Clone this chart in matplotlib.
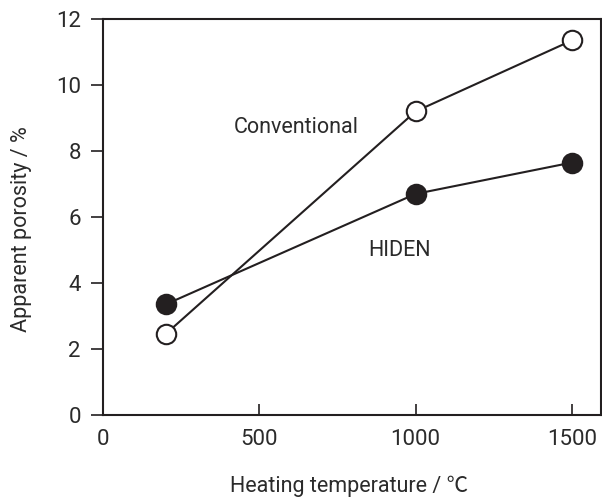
import matplotlib
matplotlib.use("Agg")
import matplotlib.pyplot as plt

plt.rcParams['font.family'] = ['Roboto', 'Noto Sans CJK JP', 'DejaVu Sans']

temps = [200, 1000, 1500]
conventional = [2.45, 9.2, 11.35]
hiden = [3.35, 6.7, 7.65]
x_ticks = [0, 500, 1000, 1500]
y_ticks = [0, 2, 4, 6, 8, 10, 12]

text_color = '#2b2b2b'
line_color = '#231f20'

fig = plt.figure(figsize=(6.02, 4.98), dpi=100)
ax = fig.add_axes([103 / 602, 83 / 498, 498 / 602, 396 / 498])

ax.plot(temps, hiden, color=line_color, lw=1.5, marker='o', ms=14,
        mfc=line_color, mec=line_color, mew=1.5, zorder=3)
ax.plot(temps, conventional, color=line_color, lw=1.5, marker='o', ms=14,
        mfc='white', mec=line_color, mew=1.5, zorder=3)

ax.text(618, 8.7, 'Conventional', fontsize=15.5, color=text_color,
        ha='center', va='center')
ax.text(950, 5.0, 'HIDEN', fontsize=15.5, color=text_color,
        ha='center', va='center')

ax.set_xlim(0, 1593)
ax.set_ylim(0, 12)
ax.set_xticks(x_ticks)
ax.set_yticks(y_ticks)
ax.tick_params(axis='x', direction='in', length=8, width=1.2, colors=line_color,
               labelcolor=text_color, labelsize=16, pad=10)
ax.tick_params(axis='y', direction='out', length=9, width=1.2, colors=line_color,
               labelcolor=text_color, labelsize=16, pad=7)
for s in ax.spines.values():
    s.set_linewidth(1.5)
    s.set_color(line_color)

ax.set_xlabel('Heating temperature / ℃', fontsize=15.5, color=text_color)
ax.set_ylabel('Apparent porosity / %', fontsize=15.5, color=text_color)
ax.xaxis.set_label_coords(0.495, -0.152)
ax.yaxis.set_label_coords(-0.142, 0.47)

fig.savefig('out.png', dpi=100)
